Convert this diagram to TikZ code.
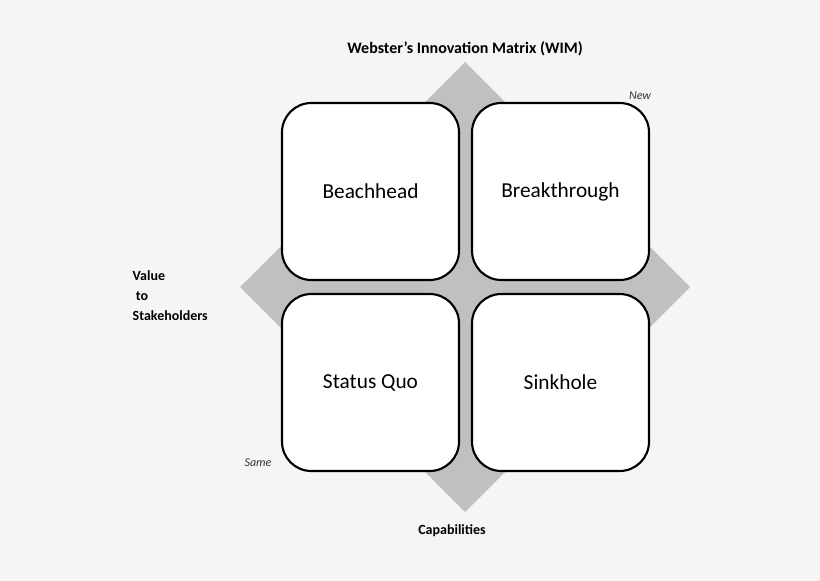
\documentclass[tikz,border=0pt]{standalone}
\usepackage{fontspec}
\setmainfont{Carlito}
\definecolor{bgcol}{HTML}{F5F5F5}
\definecolor{diamcol}{HTML}{C0C0C0}
\begin{document}
\begin{tikzpicture}[
    x=0.75pt, y=-0.75pt,
    % Common Styles
    quad/.style={
        draw=black,
        fill=white,
        line width=1.6pt,
        rounded corners=22pt,
        minimum width=177*0.75pt,
        minimum height=177*0.75pt,
        inner sep=0pt,
        font=\fontsize{16}{18}\selectfont
    },
    axis_text/.style={
        font=\bfseries\fontsize{10.5}{15}\selectfont,
        text=black
    },
    end_text/.style={
        font=\itshape\fontsize{9}{10}\selectfont,
        text=black!80
    }
]

    % Background
    \fill[bgcol] (0,0) rectangle (820,581);
    \useasboundingbox (0,0) rectangle (820,581);

    % Diamond behind the matrix
    \coordinate (dtop) at (465,62);
    \coordinate (dright) at (690,287);
    \coordinate (dbottom) at (465,512);
    \coordinate (dleft) at (240,287);
    \fill[diamcol] (dtop) -- (dright) -- (dbottom) -- (dleft) -- cycle;

    % Quadrants
    \node[quad] (beach) at (370.5,191.5) {Beachhead};
    \node[quad] (break) at (560.5,191.5) {Breakthrough};
    \node[quad] (status) at (370.5,382.5) {Status Quo};
    \node[quad] (sink) at (560.5,382.5) {Sinkhole};

    % Labels
    \node[axis_text, font=\bfseries\fontsize{12}{14}\selectfont] (title) at (465,49) {Webster’s Innovation Matrix (WIM)};
    \node[axis_text, align=left, anchor=west] (value) at (128,296) {Value\\ \ to\\Stakeholders};
    \node[axis_text] (cap) at (452,531) {Capabilities};
    \node[end_text] (new) at (640,96) {New};
    \node[end_text] (same) at (258,463) {Same};

\end{tikzpicture}
\end{document}
